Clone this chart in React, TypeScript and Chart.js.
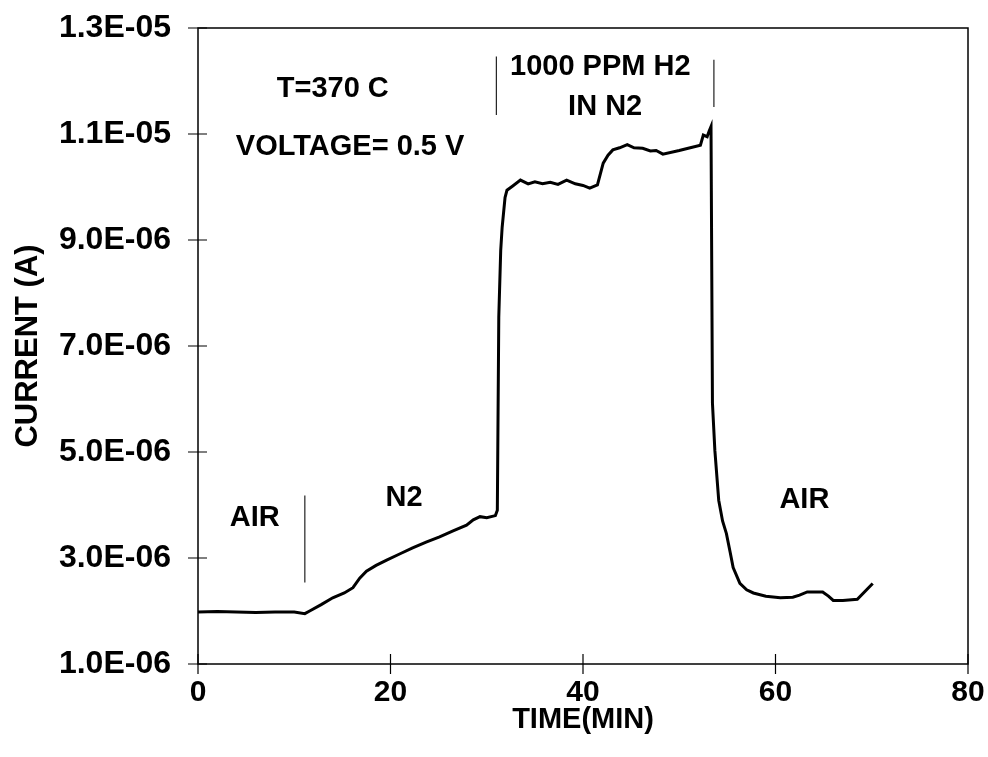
import React, { useEffect, useRef } from "react";
import { Chart, registerables } from "chart.js";
Chart.register(...registerables);

// Time (min)
const timeMin = [
  0, 2, 4, 6, 8, 10, 11.1, 11.6, 12.8, 14.0, 15.2, 16.1, 16.8, 17.5, 18.5, 19.6,
  21.0, 22.3, 23.7, 25.1, 26.5, 27.9, 28.6, 29.3, 30.0, 30.9, 31.1, 31.25, 31.45,
  31.6, 31.9, 32.1, 32.7, 33.5, 34.3, 35.0, 35.8, 36.6, 37.4, 38.3, 39.2, 40.0,
  40.7, 41.5, 42.1, 42.6, 43.1, 43.8, 44.6, 45.3, 46.2, 47.0, 47.6, 48.3, 50.0,
  52.2, 52.5, 52.9, 53.1, 53.3, 53.45, 53.7, 54.1, 54.5, 54.9, 55.3, 55.6, 56.3,
  57.0, 57.7, 59.0, 60.5, 61.8, 62.5, 63.3, 64.9, 65.5, 66.0, 67.0, 68.5, 70.1,
];
// Current (A)
const currentA = [
  1.98e-6, 1.99e-6, 1.98e-6, 1.97e-6, 1.98e-6, 1.98e-6, 1.95e-6, 2.0e-6, 2.12e-6,
  2.25e-6, 2.34e-6, 2.44e-6, 2.62e-6, 2.75e-6, 2.86e-6, 2.96e-6, 3.08e-6, 3.19e-6,
  3.30e-6, 3.40e-6, 3.51e-6, 3.62e-6, 3.72e-6, 3.78e-6, 3.76e-6, 3.80e-6, 3.90e-6,
  7.54e-6, 8.8e-6, 9.24e-6, 9.8e-6, 9.94e-6, 10.02e-6, 10.13e-6, 10.06e-6,
  10.10e-6, 10.06e-6, 10.09e-6, 10.05e-6, 10.13e-6, 10.06e-6, 10.03e-6, 9.98e-6,
  10.04e-6, 10.45e-6, 10.6e-6, 10.70e-6, 10.74e-6, 10.80e-6, 10.74e-6, 10.73e-6,
  10.68e-6, 10.69e-6, 10.62e-6, 10.69e-6, 10.79e-6, 10.98e-6, 10.95e-6, 11.05e-6,
  11.14e-6, 5.92e-6, 5.03e-6, 4.09e-6, 3.70e-6, 3.46e-6, 3.10e-6, 2.82e-6,
  2.52e-6, 2.40e-6, 2.34e-6, 2.28e-6, 2.25e-6, 2.26e-6, 2.30e-6, 2.36e-6,
  2.36e-6, 2.28e-6, 2.20e-6, 2.20e-6, 2.22e-6, 2.52e-6,
];

const xTickValues = [0, 20, 40, 60, 80];
const xTickLabels = ["0", "20", "40", "60", "80"];
const yTickValues = [1.0e-6, 3.0e-6, 5.0e-6, 7.0e-6, 9.0e-6, 1.1e-5, 1.3e-5];
const yTickLabels = ["1.0E-06", "3.0E-06", "5.0E-06", "7.0E-06", "9.0E-06", "1.1E-05", "1.3E-05"];

// Vertical marker lines separating gas phases
const markerTimes = [11.1, 31.0, 53.6];
const markerLow = [2.54e-6, 11.36e-6, 11.51e-6];
const markerHigh = [4.18e-6, 12.46e-6, 12.4e-6];

// Text annotations (placed in data coordinates)
const annotationTexts = ["T=370 C", "VOLTAGE= 0.5 V", "1000 PPM H2", "IN N2", "AIR", "N2", "AIR"];
const annotationTimes = [14.0, 15.8, 41.8, 42.3, 5.9, 21.4, 63.0];
const annotationCurrents = [11.85e-6, 10.76e-6, 12.27e-6, 11.51e-6, 3.75e-6, 4.14e-6, 4.09e-6];

const FONT_FAMILY = '"Liberation Sans", Arial, Helvetica, sans-serif';

const framePlugin = {
  id: "frameAndTicks",
  afterDraw(chart: any) {
    const { ctx, chartArea, scales } = chart;
    const { left, right, top, bottom } = chartArea;
    ctx.save();
    ctx.strokeStyle = "#000";
    ctx.lineWidth = 1.5;
    ctx.strokeRect(left, top, right - left, bottom - top);
    ctx.lineWidth = 1.2;
    ctx.beginPath();
    for (const v of xTickValues) {
      const px = scales.x.getPixelForValue(v);
      ctx.moveTo(px, bottom - 10);
      ctx.lineTo(px, bottom + 10);
    }
    for (const v of yTickValues) {
      const py = scales.y.getPixelForValue(v);
      ctx.moveTo(left - 10, py);
      ctx.lineTo(left + 9, py);
    }
    ctx.stroke();
    ctx.restore();
  },
};

const annotationPlugin = {
  id: "textAnnotations",
  afterDatasetsDraw(chart: any) {
    const { ctx, scales } = chart;
    ctx.save();
    ctx.font = `bold 29px ${FONT_FAMILY}`;
    ctx.fillStyle = "#000";
    ctx.textAlign = "center";
    ctx.textBaseline = "middle";
    annotationTexts.forEach((t, i) => {
      ctx.fillText(
        t,
        scales.x.getPixelForValue(annotationTimes[i]),
        scales.y.getPixelForValue(annotationCurrents[i])
      );
    });
    ctx.restore();
  },
};

export default function App() {
  const canvasRef = useRef<HTMLCanvasElement | null>(null);

  useEffect(() => {
    const canvas = canvasRef.current;
    if (!canvas) return;
    const mainData = timeMin.map((t, i) => ({ x: t, y: currentA[i] }));
    const markerSets = markerTimes.map((t, i) => ({
      data: [
        { x: t, y: markerLow[i] },
        { x: t, y: markerHigh[i] },
      ],
      borderColor: "#222",
      borderWidth: 1.2,
      pointRadius: 0,
      fill: false,
    }));
    const chart = new Chart(canvas, {
      type: "line",
      data: {
        datasets: [
          {
            data: mainData,
            borderColor: "#000",
            borderWidth: 3,
            pointRadius: 0,
            tension: 0,
            fill: false,
          },
          ...markerSets,
        ],
      },
      options: {
        animation: false,
        responsive: false,
        devicePixelRatio: 1,
        layout: { padding: { left: 0, top: 28, right: 20, bottom: 0 } },
        plugins: {
          legend: { display: false },
          tooltip: { enabled: false },
        },
        scales: {
          x: {
            type: "linear",
            min: 0,
            max: 80,
            grid: { display: false },
            border: { display: false },
            afterBuildTicks: (scale: any) => {
              scale.ticks = xTickValues.map((v) => ({ value: v }));
            },
            afterFit: (scale: any) => {
              scale.height = 93;
              scale.paddingLeft = 0;
              scale.paddingRight = 0;
            },
            ticks: {
              color: "#000",
              padding: 3,
              maxRotation: 0,
              font: { family: FONT_FAMILY, size: 30, weight: "bold" },
              callback: (v: any) => xTickLabels[xTickValues.indexOf(Number(v))],
            },
            title: {
              display: true,
              text: "TIME(MIN)",
              color: "#000",
              font: { family: FONT_FAMILY, size: 29, weight: "bold" },
              padding: { top: 0, bottom: 20 },
            },
          },
          y: {
            type: "linear",
            min: 1.0e-6,
            max: 1.3e-5,
            grid: { display: false },
            border: { display: false },
            afterBuildTicks: (scale: any) => {
              scale.ticks = yTickValues.map((v) => ({ value: v }));
            },
            afterFit: (scale: any) => {
              scale.width = 198;
              scale.paddingTop = 0;
              scale.paddingBottom = 0;
            },
            ticks: {
              color: "#000",
              padding: 19,
              font: { family: FONT_FAMILY, size: 32, weight: "bold" },
              callback: (v: any) => yTickLabels[yTickValues.indexOf(Number(v))],
            },
            title: {
              display: true,
              text: "CURRENT (A)",
              color: "#000",
              font: { family: FONT_FAMILY, size: 31, weight: "bold" },
              padding: { top: 10, bottom: 0 },
            },
          },
        },
      },
      plugins: [framePlugin, annotationPlugin],
    } as any);
    return () => chart.destroy();
  }, []);

  return (
    <div style={{ position: "absolute", left: 0, top: 0, width: 988, height: 757, background: "#fff" }}>
      <canvas ref={canvasRef} width={988} height={757} style={{ display: "block" }} />
    </div>
  );
}
